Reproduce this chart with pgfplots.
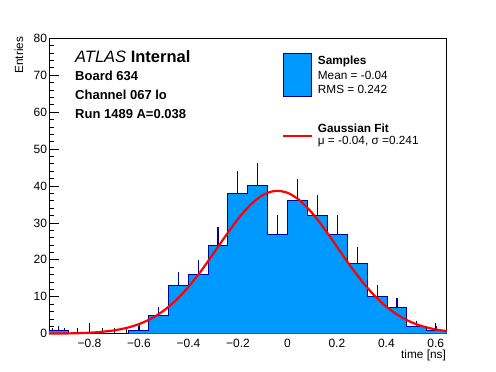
\documentclass[border=0pt]{standalone}
\usepackage{fontspec}
\setmainfont{Liberation Sans}
\usepackage{pgfplots}
\pgfplotsset{compat=1.18}
\definecolor{rootblue}{RGB}{0,153,255}
\definecolor{rootnavy}{RGB}{0,0,153}
\definecolor{rootred}{RGB}{255,0,0}
\begin{document}
\begin{tikzpicture}
\begin{axis}[
  scale only axis,
  width=397.7pt, height=295.4pt,
  xmin=-0.964, xmax=0.644, ymin=0, ymax=80,
  axis line style={black, line width=0.9pt},
  tick align=inside,
  xtick pos=bottom, ytick pos=left,
  xtick={-0.8,-0.6,-0.4,-0.2,0,0.2,0.4,0.6},
  xticklabels={−0.8,−0.6,−0.4,−0.2,0,0.2,0.4,0.6},
  minor xtick={-0.95,-0.9,-0.85,-0.75,-0.7,-0.65,-0.55,-0.5,-0.45,-0.35,-0.3,-0.25,-0.15,-0.1,-0.05,0.05,0.1,0.15,0.25,0.3,0.35,0.45,0.5,0.55},
  ytick={0,10,20,30,40,50,60,70,80},
  yticklabels={0,10,20,30,40,50,60,70,80},
  minor ytick={2,4,6,8,12,14,16,18,22,24,26,28,32,34,36,38,42,44,46,48,52,54,56,58,62,64,66,68,72,74,76,78},
  major tick length=10.5pt, minor tick length=5.5pt,
  tick style={black, line width=0.8pt},
  ticklabel style={font=\fontsize{12}{14}\selectfont},
  xticklabel style={yshift=-1.8pt},
  yticklabel style={xshift=1.5pt},
  /pgf/number format/assume math mode=true,
  clip=false,
]
% histogram fill
\addplot[const plot mark left, fill=rootblue, draw=none] coordinates {
(-0.9640,1) (-0.8836,0) (-0.8032,0) (-0.7228,0) (-0.6424,1)
(-0.5620,5) (-0.4816,13) (-0.4012,16) (-0.3208,24) (-0.2404,38)
(-0.1600,40) (-0.0796,27) (0.0008,36) (0.0812,32) (0.1616,27)
(0.2420,19) (0.3224,10) (0.4028,7) (0.4832,2) (0.5636,1) (0.6440,1)
} \closedcycle;
% error bars (upper half visible)
\addplot[draw=none, mark=none,
  error bars/.cd, y dir=plus, y explicit, error mark=none,
  error bar style={draw=rootnavy, solid, line width=1.1pt}] coordinates {
(-0.9238,1) +- (0,1)
(-0.6022,1) +- (0,1)
(-0.5218,5) +- (0,2.236)
(-0.4414,13) +- (0,3.606)
(-0.3610,16) +- (0,4)
(-0.2806,24) +- (0,4.899)
(-0.2002,38) +- (0,6.164)
(-0.1198,40) +- (0,6.325)
(-0.0394,27) +- (0,5.196)
(0.0410,36) +- (0,6)
(0.1214,32) +- (0,5.657)
(0.2018,27) +- (0,5.196)
(0.2822,19) +- (0,4.359)
(0.3626,10) +- (0,3.162)
(0.4430,7) +- (0,2.646)
(0.5234,2) +- (0,1.414)
(0.6038,1) +- (0,1)
};
% histogram outline
\addplot[const plot mark left, draw=rootnavy, line width=1pt] coordinates {
(-0.9640,1) (-0.8836,0) (-0.8032,0) (-0.7228,0) (-0.6424,1)
(-0.5620,5) (-0.4816,13) (-0.4012,16) (-0.3208,24) (-0.2404,38)
(-0.1600,40) (-0.0796,27) (0.0008,36) (0.0812,32) (0.1616,27)
(0.2420,19) (0.3224,10) (0.4028,7) (0.4832,2) (0.5636,1) (0.6440,1)
};
% gaussian fit curve
\addplot[rootred, line width=2.2pt, smooth] coordinates {
(-0.964,0.025) (-0.90,0.066) (-0.85,0.136) (-0.80,0.268) (-0.75,0.505)
(-0.70,0.910) (-0.65,1.572) (-0.60,2.601) (-0.55,4.123) (-0.50,6.261)
(-0.45,9.104) (-0.40,12.681) (-0.35,16.920) (-0.30,21.627) (-0.25,26.476)
(-0.20,31.045) (-0.15,34.872) (-0.10,37.519) (-0.05,38.667) (0.00,38.171)
(0.05,36.094) (0.10,32.691) (0.15,28.363) (0.20,23.571) (0.25,18.761)
(0.30,14.306) (0.35,10.449) (0.40,7.310) (0.45,4.898) (0.50,3.144)
(0.55,1.933) (0.60,1.139) (0.644,0.689)
};
\end{axis}
% axis titles
\node[rotate=90, anchor=east, inner sep=0pt, font=\fontsize{11.8}{14}\selectfont] at (-30pt,297pt) {Entries};
\node[anchor=base east, inner sep=0pt, font=\fontsize{11.8}{14}\selectfont] at (397pt,-24.6pt) {time [ns]};
% ATLAS text
\node[anchor=base west, inner sep=0pt, font=\fontsize{16.5}{19}\selectfont] at (26pt,271.4pt) {\textit{ATLAS} \textbf{Internal}};
\node[anchor=base west, inner sep=0pt, font=\fontsize{13}{15}\selectfont\bfseries] at (26pt,253.4pt) {Board 634};
\node[anchor=base west, inner sep=0pt, font=\fontsize{13}{15}\selectfont\bfseries] at (26pt,233.7pt) {Channel 067 lo};
\node[anchor=base west, inner sep=0pt, font=\fontsize{13}{15}\selectfont\bfseries] at (26pt,214.7pt) {Run 1489 A=0.038};
% legend
\filldraw[fill=rootblue, draw=rootnavy, line width=0.9pt] (234.3pt,237pt) rectangle (262.7pt,280.4pt);
\draw[rootred, line width=2.2pt] (234.3pt,197.7pt) -- (262.7pt,197.7pt);
\node[anchor=base west, inner sep=0pt, font=\fontsize{11.8}{14}\selectfont\bfseries] at (268.7pt,268.7pt) {Samples};
\node[anchor=base west, inner sep=0pt, font=\fontsize{11.8}{14}\selectfont] at (268.7pt,254.4pt) {Mean = -0.04};
\node[anchor=base west, inner sep=0pt, font=\fontsize{11.8}{14}\selectfont] at (268.7pt,240.4pt) {RMS = 0.242};
\node[anchor=base west, inner sep=0pt, font=\fontsize{11.8}{14}\selectfont\bfseries] at (268.7pt,201pt) {Gaussian Fit};
\node[anchor=base west, inner sep=0pt, font=\fontsize{11.8}{14}\selectfont] at (268.7pt,189.4pt) {μ = -0.04, σ =0.241};
\path[use as bounding box] (-49pt,-38.3pt) rectangle (447pt,333.7pt);
\end{tikzpicture}
\end{document}
